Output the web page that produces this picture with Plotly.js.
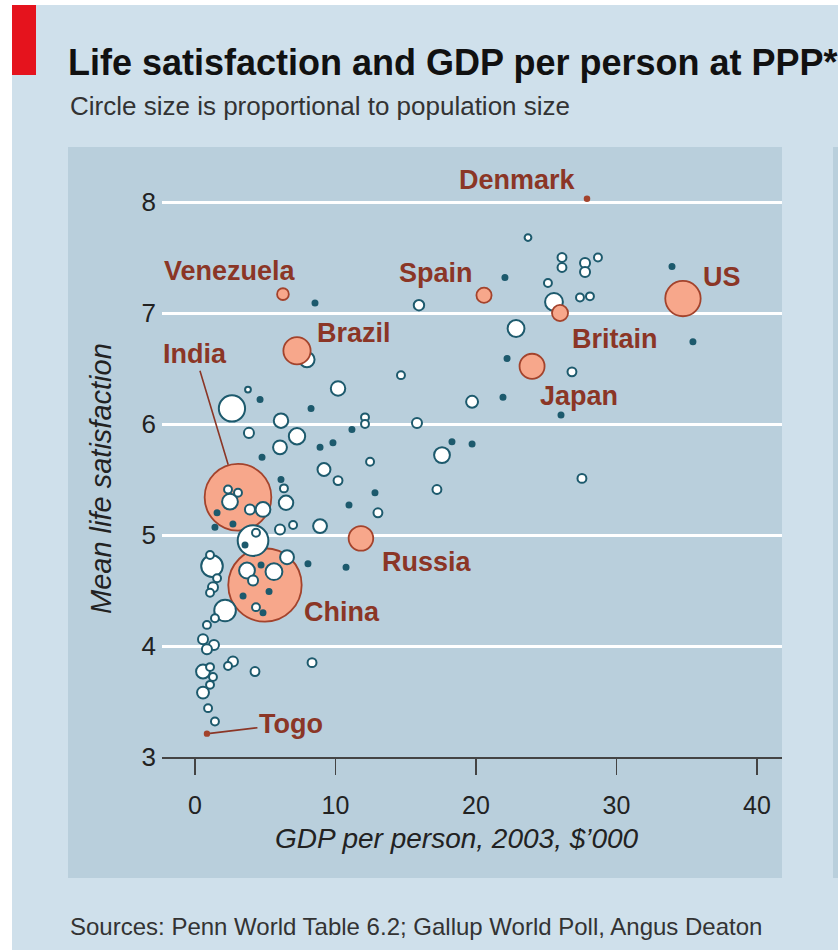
<!DOCTYPE html>
<html><head><meta charset="utf-8">
<script src="https://cdn.plot.ly/plotly-3.0.1.min.js"></script>
<style>html,body{margin:0;padding:0;background:#fff;} #chart{width:838px;height:950px;}</style>
</head><body><div id="chart"></div>
<script>
// ---- Data ----
// Highlighted countries
const highlightNames = ["Denmark","Venezuela","Spain","US","Britain","Brazil","Japan","India","Russia","China","Togo"];
const highlightGdp   = [27.9, 6.26, 20.57, 34.73, 25.98, 7.26, 23.99, 3.06, 11.81, 4.98, 0.85];   // $'000
const highlightSat   = [8.03, 7.17, 7.16, 7.13, 7.0, 6.66, 6.52, 5.34, 4.97, 4.55, 3.21];
const highlightPop   = [5.4, 33, 55, 300, 62, 178, 150, 1065, 145, 1290, 5];                          // millions

// Other countries
const otherGdp = [8.54,15.94,14.66,7.97,10.18,3.77,4.63,2.63,8.26,6.12,3.84,7.26,6.05,8.9,9.82,11.17,12.1,12.1,15.8,17.58,
  18.29,4.77,12.46,9.18,10.18,6.12,6.33,17.22,12.81,6.48,10.96,13.02,4.84,3.91,2.49,2.35,3.06,1.57,1.42,2.7,
  6.05,6.98,8.9,4.13,4.34,3.56,1.21,1.07,3.7,4.13,5.62,6.55,4.7,8.04,10.75,5.27,3.42,4.34,4.84,2.14,
  1.42,0.85,0.57,1.35,0.85,2.7,2.35,4.27,8.33,0.57,1.07,1.28,0.57,1.07,0.93,1.42,1.57,1.28,1.07,19.72,
  21.92,26.05,19.72,27.54,23.7,26.12,26.12,27.76,27.76,28.68,22.06,25.12,25.55,27.4,28.11,33.95,35.44,22.85,22.21,26.83];
const otherSat = [7.09,7.07,6.44,6.58,6.32,6.31,6.22,6.14,6.14,6.03,5.92,5.89,5.79,5.79,5.83,5.95,6.06,6.0,6.01,5.72,
  5.84,5.7,5.66,5.59,5.49,5.5,5.42,5.41,5.38,5.29,5.27,5.2,5.23,5.23,5.3,5.41,5.38,5.2,5.07,5.1,
  5.05,5.09,5.08,4.95,5.02,4.91,4.72,4.82,4.68,4.59,4.67,4.8,4.73,4.74,4.71,4.49,4.45,4.35,4.3,4.32,
  4.25,4.19,4.06,4.01,3.97,3.86,3.82,3.77,3.85,3.77,3.81,3.72,3.58,3.65,3.44,3.32,4.61,4.53,4.48,6.2,
  6.24,6.08,5.82,5.51,7.68,7.5,7.41,7.45,7.37,7.5,7.32,7.27,7.1,7.14,7.15,7.42,6.74,6.86,6.59,6.47];
const otherPop = [6,26,15,55,50,8,6,165,6,50,24,64,46,6,6,6,15,15,24,60,
  6,6,15,40,19,6,15,19,6,50,6,19,52,24,60,15,15,6,6,6,
  24,15,46,225,15,6,112,15,60,24,68,46,6,6,6,6,6,15,6,112,
  15,15,24,24,24,24,15,19,19,46,15,15,34,15,15,15,15,24,15,34,
  6,6,6,19,11,19,19,24,24,15,6,15,76,15,15,6,6,68,6,19];

const xTickVals = [0, 10, 20, 30, 40];
const yTickVals = [3, 4, 5, 6, 7, 8];

// ---- Styling ----
const FONT = "Liberation Sans, Arial, sans-serif";
const SIZEREF = 0.479;
const teal = "#1d5a6d", orangeFill = "#f7a78b", orangeLine = "#a3432c", labelCol = "#8b3626";
const outerBg = "#cfe0eb", panelBg = "#b9cfdc";

// plot-area geometry (px) used only to place paper-referenced decorations
const W = 838, H = 950, L = 162, R = 782, T = 160, B = 757;
const px = v => (v - L) / (R - L);
const py = v => (B - v) / (B - T);

function pick(arr, idx) { return idx.map(i => arr[i]); }

const hiAll = highlightNames.map((_, i) => i);
const hiBig = hiAll.filter(i => highlightPop[i] >= 1000);
const hiRest = hiAll.filter(i => highlightPop[i] < 1000);
const otherIdx = otherGdp.map((_, i) => i).sort((a, b) => otherPop[b] - otherPop[a]);

function hiTrace(idx) {
  return {
    type: "scatter", mode: "markers", hoverinfo: "text",
    x: pick(highlightGdp, idx), y: pick(highlightSat, idx), text: pick(highlightNames, idx),
    marker: {
      size: pick(highlightPop, idx), sizemode: "area", sizeref: SIZEREF,
      color: pick(highlightPop, idx).map(p => p < 10 ? orangeLine : orangeFill),
      line: { color: orangeLine, width: 1.8 }, opacity: 1
    },
    showlegend: false
  };
}
const otherTrace = {
  type: "scatter", mode: "markers", hoverinfo: "x+y",
  x: pick(otherGdp, otherIdx), y: pick(otherSat, otherIdx),
  marker: {
    size: pick(otherPop, otherIdx), sizemode: "area", sizeref: SIZEREF,
    color: pick(otherPop, otherIdx).map(p => p <= 6 ? teal : "#ffffff"),
    line: { color: teal, width: 2 }, opacity: 1
  },
  showlegend: false
};

// label placement relative to each highlighted point (px)
const labelPlace = {
  Denmark:   { xanchor: "right", xshift: -9, yshift: 19 },
  Venezuela: { xanchor: "center", xshift: -53, yshift: 23 },
  Spain:     { xanchor: "right", xshift: -9, yshift: 22 },
  US:        { xanchor: "left", xshift: 18, yshift: 22 },
  Britain:   { xanchor: "left", xshift: 10, yshift: -26 },
  Brazil:    { xanchor: "left", xshift: 18, yshift: 18 },
  Japan:     { xanchor: "left", xshift: 6, yshift: -30 },
  Russia:    { xanchor: "left", xshift: 19, yshift: -24 },
  China:     { xanchor: "left", xshift: 37, yshift: -27 },
  India:     { arrow: true, ax: -43, ay: -143, standoff: 34 },
  Togo:      { arrow: true, ax: 84, ay: -10, standoff: 3 }
};

const labelAnnots = highlightNames.map((n, i) => {
  const p = labelPlace[n];
  const a = {
    x: highlightGdp[i], y: highlightSat[i], xref: "x", yref: "y", text: n,
    font: { family: FONT, size: 27, weight: "bold", color: labelCol }
  };
  if (p.arrow) {
    Object.assign(a, { showarrow: true, ax: p.ax, ay: p.ay, axref: "pixel", ayref: "pixel",
      arrowhead: 0, arrowwidth: 1.6, arrowcolor: labelCol, standoff: p.standoff });
  } else {
    Object.assign(a, { showarrow: false, xanchor: p.xanchor, yanchor: "middle", xshift: p.xshift, yshift: p.yshift });
  }
  return a;
});

const shapes = [
  { type: "rect", xref: "paper", yref: "paper", x0: px(12), x1: px(W + 20), y0: py(5), y1: py(H + 20), fillcolor: outerBg, line: { width: 0 }, layer: "below" },
  { type: "rect", xref: "paper", yref: "paper", x0: px(68), x1: px(782), y0: py(147), y1: py(878), fillcolor: panelBg, line: { width: 0 }, layer: "below" },
  { type: "rect", xref: "paper", yref: "paper", x0: px(833), x1: px(W + 20), y0: py(147), y1: py(878), fillcolor: panelBg, line: { width: 0 }, layer: "below" },
  { type: "rect", xref: "paper", yref: "paper", x0: px(12), x1: px(36), y0: py(5), y1: py(75), fillcolor: "#e5131d", line: { width: 0 }, layer: "below" }
];

const layout = {
  width: W, height: H,
  margin: { l: L, r: W - R, t: T, b: H - B, pad: 0 },
  paper_bgcolor: "#ffffff", plot_bgcolor: "rgba(0,0,0,0)",
  font: { family: FONT, color: "#222" },
  title: {
    text: "Life satisfaction and GDP per person at PPP*",
    font: { family: FONT, size: 36, weight: "bold", color: "#111" },
    x: 68 / W, xref: "container", xanchor: "left",
    y: 1 - 62 / H, yref: "container", yanchor: "middle"
  },
  xaxis: {
    range: [(L - 195) / 14.05, (R - 195) / 14.05],
    tickvals: xTickVals, ticktext: xTickVals.map(String),
    ticks: "outside", ticklen: 16, tickwidth: 1.5, tickcolor: "#444",
    showgrid: false, zeroline: false, showline: true, linecolor: "#444", linewidth: 1.5,
    tickfont: { family: FONT, size: 25, color: "#222" }, ticklabelstandoff: 9,
    title: { text: "" },
    fixedrange: true
  },
  yaxis: {
    range: [3, 3 + (B - T) / 111],
    tickvals: yTickVals, ticktext: yTickVals.map(String),
    ticks: "", showline: false, zeroline: false,
    showgrid: true, gridcolor: "#ffffff", gridwidth: 3,
    tickfont: { family: FONT, size: 26, color: "#222" }, ticklabelstandoff: 5,
    title: { text: "" },
    fixedrange: true
  },
  shapes: shapes,
  annotations: labelAnnots.concat([
    { xref: "paper", yref: "paper", x: px(68), y: py(106), xanchor: "left", yanchor: "middle", showarrow: false,
      text: "Circle size is proportional to population size", font: { family: FONT, size: 26, color: "#333" } },
    { xref: "paper", yref: "paper", x: px(68), y: py(926), xanchor: "left", yanchor: "middle", showarrow: false,
      text: "Sources: Penn World Table 6.2; Gallup World Poll, Angus Deaton", font: { family: FONT, size: 24, color: "#333" } },
    { xref: "paper", yref: "paper", x: px(457), y: py(838), xanchor: "center", yanchor: "middle", showarrow: false,
      text: "GDP per person, 2003, $’000", font: { family: FONT, size: 28, style: "italic", color: "#222" } },
    { xref: "paper", yref: "paper", x: px(101), y: py(479), xanchor: "center", yanchor: "middle", showarrow: false, textangle: -90,
      text: "Mean life satisfaction", font: { family: FONT, size: 29, style: "italic", color: "#222" } }
  ]),
  showlegend: false, hovermode: "closest"
};

Plotly.newPlot("chart", [hiTrace(hiBig), otherTrace, hiTrace(hiRest)], layout, { displayModeBar: false, staticPlot: true });
</script>
</body></html>
